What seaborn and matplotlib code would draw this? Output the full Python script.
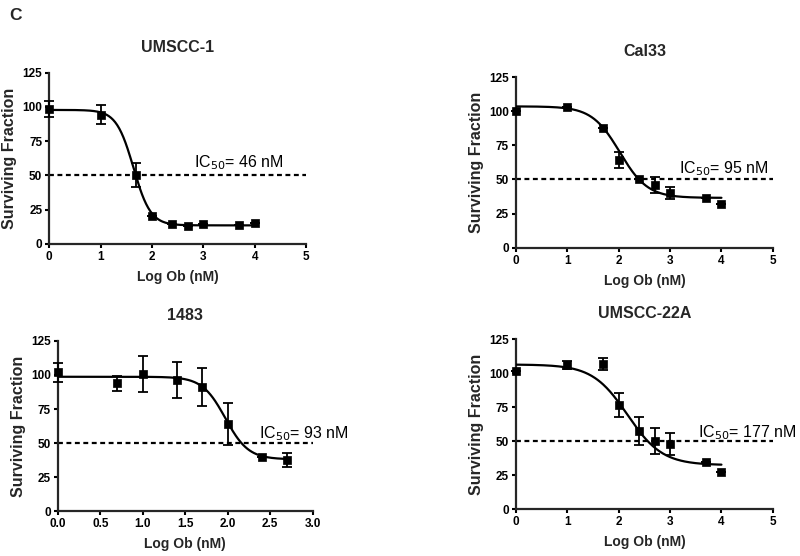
import numpy as np
import matplotlib
matplotlib.use("Agg")
import matplotlib.pyplot as plt
import seaborn as sns
import pandas as pd

sns.set_theme(style="ticks")
plt.rcParams['font.family'] = ['Liberation Sans', 'DejaVu Sans']

# ---- data (log10 dose in nM, surviving fraction %, error) ----
titles = ["UMSCC-1", "Cal33", "1483", "UMSCC-22A"]
ic50_labels = ["46 nM", "95 nM", "93 nM", "177 nM"]

umscc1_x = [0, 1, 1.699, 2, 2.398, 2.699, 3, 3.699, 4]
umscc1_y = [98.3, 94.4, 50.2, 20.0, 14.5, 13.2, 14.4, 13.9, 15.2]
umscc1_err = [5.8, 7.2, 8.5, 0, 0, 0, 0, 0, 0]

cal33_x = [0, 1, 1.699, 2, 2.398, 2.699, 3, 3.699, 4]
cal33_y = [100.0, 103.3, 87.9, 64.2, 50.0, 45.9, 40.3, 36.4, 32.0]
cal33_err = [0, 0, 0, 5.8, 0, 6.2, 4.3, 0, 0]

c1483_x = [0, 0.699, 1.0, 1.398, 1.699, 2.0, 2.398, 2.699]
c1483_y = [102.0, 93.9, 100.5, 96.6, 90.9, 64.0, 39.7, 37.5]
c1483_err = [7.0, 5.4, 13.2, 13.2, 14.0, 15.5, 0, 5.4]

u22a_x = [0, 1, 1.699, 2, 2.398, 2.699, 3, 3.699, 4]
u22a_y = [101.7, 106.0, 106.6, 76.7, 57.6, 50.2, 48.0, 34.6, 27.2]
u22a_err = [0, 3.0, 4.5, 9.0, 10.5, 9.5, 8.3, 0, 0]

# fitted sigmoid (4-parameter logistic) parameters
fit_top = [97.8, 103.5, 98.7, 106.5]
fit_bottom = [13.4, 36.5, 38.0, 32.5]
fit_logec50 = [1.64, 2.02, 1.97, 2.17]
fit_hill = [2.6, 1.6, 3.2, 1.28]
fit_xmax = [4.0, 4.0, 2.7, 4.0]

xmax_axis = [5, 5, 3, 5]
xticks_list = [[0, 1, 2, 3, 4, 5], [0, 1, 2, 3, 4, 5],
               [0.0, 0.5, 1.0, 1.5, 2.0, 2.5, 3.0], [0, 1, 2, 3, 4, 5]]
xticklabels_list = [["0", "1", "2", "3", "4", "5"], ["0", "1", "2", "3", "4", "5"],
                    ["0.0", "0.5", "1.0", "1.5", "2.0", "2.5", "3.0"],
                    ["0", "1", "2", "3", "4", "5"]]
yticks = [0, 25, 50, 75, 100, 125]
ic50_pos = [(2.81, 59), (3.17, 57.6), (2.37, 57.1), (3.54, 56.6)]

series = [(umscc1_x, umscc1_y, umscc1_err), (cal33_x, cal33_y, cal33_err),
          (c1483_x, c1483_y, c1483_err), (u22a_x, u22a_y, u22a_err)]

fig = plt.figure(figsize=(8, 5.56), dpi=100)
positions = [
    [0.0615, 0.5617, 0.321, 0.3075],
    [0.645, 0.5545, 0.321, 0.307],
    [0.0725, 0.0809, 0.3184, 0.3058],
    [0.645, 0.0840, 0.321, 0.3057],
]

for i in range(4):
    ax = fig.add_axes(positions[i])
    x, y, e = series[i]
    # fitted curve
    xc = np.linspace(0, fit_xmax[i], 300)
    yc = fit_bottom[i] + (fit_top[i] - fit_bottom[i]) / (1 + 10 ** ((xc - fit_logec50[i]) * fit_hill[i]))
    sns.lineplot(x=xc, y=yc, ax=ax, color="black", lw=1.6, zorder=3)
    # 50% dashed line
    ax.axhline(50, color="black", lw=1.6, ls=(0, (2.2, 1.6)), zorder=2)
    # points with error bars
    ax.errorbar(x, y, yerr=e, fmt="none", ecolor="black", elinewidth=1.3,
                capsize=3.5, capthick=1.3, zorder=4, clip_on=False)
    df = pd.DataFrame({"x": x, "y": y})
    sns.scatterplot(data=df, x="x", y="y", ax=ax, marker="s", s=40,
                    color="black", edgecolor="black", linewidth=0.5,
                    zorder=5, clip_on=False)
    ax.set_xlim(0, xmax_axis[i])
    ax.set_ylim(0, 125)
    ax.set_xticks(xticks_list[i])
    ax.set_xticklabels(xticklabels_list[i], fontweight="bold", fontsize=8.5)
    ax.set_yticks(yticks)
    ax.set_yticklabels([str(t) for t in yticks], fontweight="bold", fontsize=8.5)
    for s in ["top", "right"]:
        ax.spines[s].set_visible(False)
    for s in ["left", "bottom"]:
        ax.spines[s].set_linewidth(1.6)
    ax.tick_params(direction="out", length=3, width=1.5, pad=2, colors="black")
    ax.set_xlabel("Log Ob (nM)", fontweight="bold", fontsize=10, labelpad=5)
    ax.set_ylabel("Surviving Fraction", fontweight="bold", fontsize=11.5, labelpad=4)
    ax.set_title(titles[i], fontweight="bold", fontsize=11.5, pad=15)
    ax.text(ic50_pos[i][0], ic50_pos[i][1], "IC$_{50}$= " + ic50_labels[i],
            fontsize=11.5, va="center", ha="left", color="black")

fig.text(0.012, 0.973, "C", fontweight="bold", fontsize=12.5, va="center", ha="left")

fig.savefig("out.png", dpi=100, facecolor="white")
